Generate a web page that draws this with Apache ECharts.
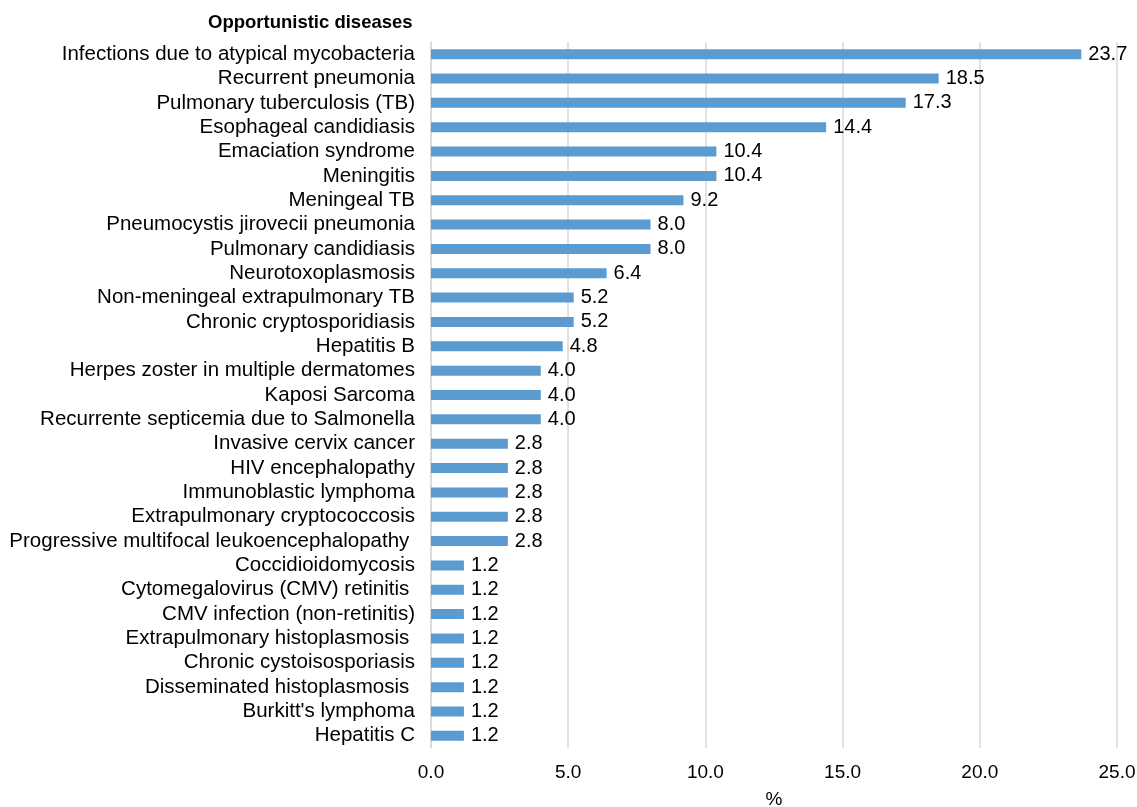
<!DOCTYPE html>
<html>
<head>
<meta charset="utf-8">
<script src="https://cdn.jsdelivr.net/npm/echarts@6/dist/echarts.min.js"></script>
<style>html,body{margin:0;padding:0;background:#fff;}#c{width:1137px;height:807px;}</style>
</head>
<body>
<div id="c"></div>
<script>
const categories = [
  "Infections due to atypical mycobacteria",
  "Recurrent pneumonia",
  "Pulmonary tuberculosis (TB)",
  "Esophageal candidiasis",
  "Emaciation syndrome",
  "Meningitis",
  "Meningeal TB",
  "Pneumocystis jirovecii pneumonia",
  "Pulmonary candidiasis",
  "Neurotoxoplasmosis",
  "Non-meningeal extrapulmonary TB",
  "Chronic cryptosporidiasis",
  "Hepatitis B",
  "Herpes zoster in multiple dermatomes",
  "Kaposi Sarcoma",
  "Recurrente septicemia due to Salmonella",
  "Invasive cervix cancer",
  "HIV encephalopathy",
  "Immunoblastic lymphoma",
  "Extrapulmonary cryptococcosis",
  "Progressive multifocal leukoencephalopathy ",
  "Coccidioidomycosis",
  "Cytomegalovirus (CMV) retinitis ",
  "CMV infection (non-retinitis)",
  "Extrapulmonary histoplasmosis ",
  "Chronic cystoisosporiasis",
  "Disseminated histoplasmosis ",
  "Burkitt's lymphoma",
  "Hepatitis C"
];
const percentages = [23.7, 18.5, 17.3, 14.4, 10.4, 10.4, 9.2, 8.0, 8.0, 6.4, 5.2, 5.2, 4.8, 4.0, 4.0, 4.0, 2.8, 2.8, 2.8, 2.8, 2.8, 1.2, 1.2, 1.2, 1.2, 1.2, 1.2, 1.2, 1.2];
const xTicks = { min: 0, max: 25, interval: 5 };
const titleText = "Opportunistic diseases";
const axisName = "%";

const chart = echarts.init(document.getElementById('c'), null, { renderer: 'canvas' });
const font = '"Liberation Sans", Arial, sans-serif';
chart.setOption({
  animation: false,
  backgroundColor: '#ffffff',
  title: {
    text: titleText,
    left: 203, top: 8,
    textStyle: { fontFamily: font, fontSize: 18.5, fontWeight: 'bold', color: '#000' }
  },
  grid: { left: 431, right: 20, top: 42, bottom: 59, containLabel: false, outerBoundsMode: 'none' },
  xAxis: {
    type: 'value',
    min: xTicks.min, max: xTicks.max, interval: xTicks.interval,
    name: axisName, nameLocation: 'middle', nameGap: 42,
    nameTextStyle: { fontFamily: font, fontSize: 19, color: '#000' },
    axisLine: { show: false },
    axisTick: { show: false },
    axisLabel: { fontFamily: font, fontSize: 19, color: '#000', margin: 15, formatter: v => v.toFixed(1) },
    splitLine: { show: true, lineStyle: { color: '#d9d9d9', width: 1.5 } }
  },
  yAxis: {
    type: 'category',
    data: categories,
    inverse: true,
    axisLine: { show: true, lineStyle: { color: '#d9d9d9', width: 1.5 } },
    axisTick: { show: false },
    axisLabel: { fontFamily: font, fontSize: 20.5, color: '#000', margin: 16, interval: 0 }
  },
  series: [{
    type: 'bar',
    data: percentages,
    barWidth: 10,
    itemStyle: { color: '#5b9bd0' },
    label: {
      show: true, position: 'right', distance: 7,
      fontFamily: font, fontSize: 20, color: '#000',
      formatter: p => p.value.toFixed(1)
    }
  }]
});
</script>
</body>
</html>
